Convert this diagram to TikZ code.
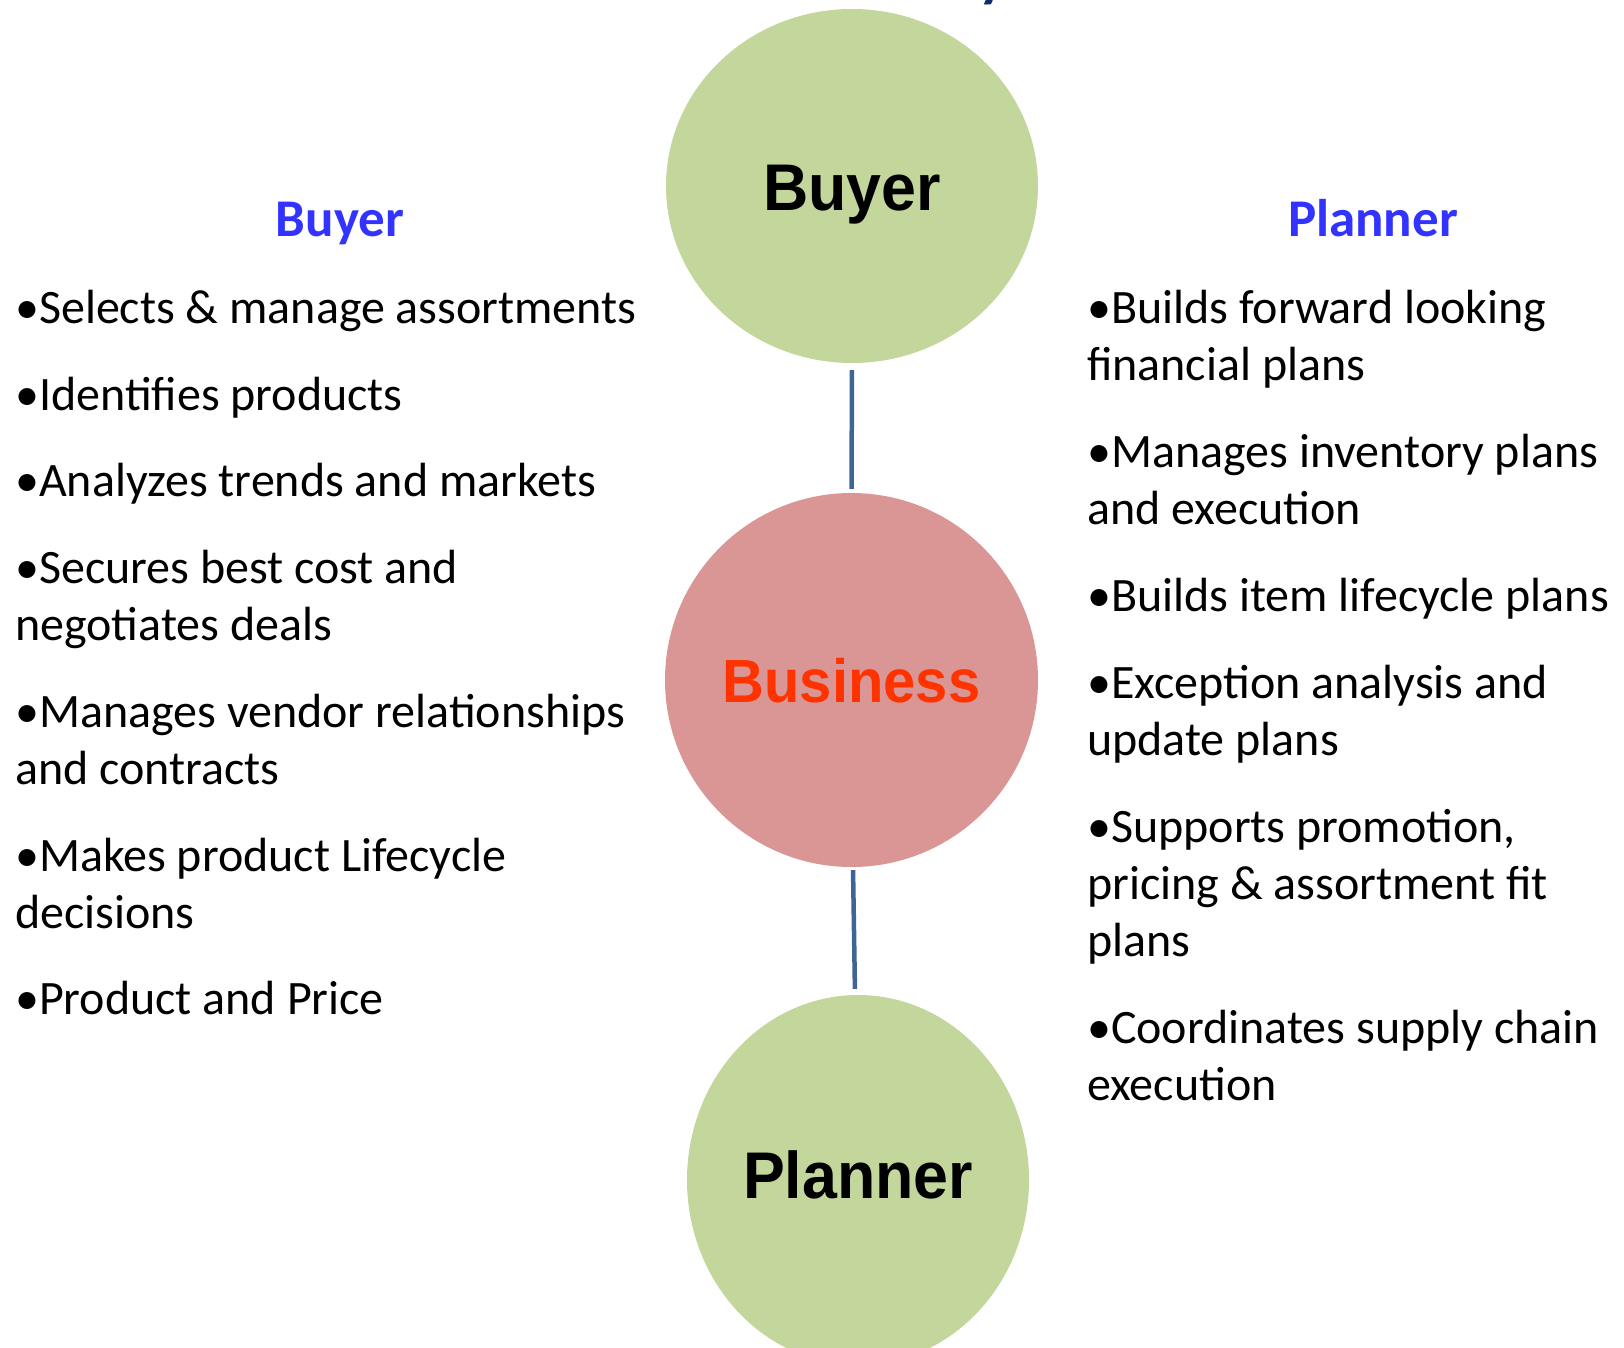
\documentclass[tikz,border=0pt]{standalone}
\usepackage{fontspec}
\setmainfont{Carlito}
\newfontfamily\circfont{Liberation Sans}[FakeStretch=0.95]
\usetikzlibrary{shapes.geometric}
\definecolor{circgreen}{HTML}{C3D69B}
\definecolor{circpink}{HTML}{D99694}
\definecolor{busred}{HTML}{FF3300}
\definecolor{headblue}{HTML}{3333FF}
\definecolor{linkblue}{HTML}{3F6596}
\definecolor{titlenavy}{HTML}{0B2D6E}
\tikzset{
  bubble/.style={ellipse, inner sep=0pt, draw=none, text depth=0pt},
  linkline/.style={draw=linkblue, line width=4.5pt},
  bodytext/.style={anchor=base west, inner sep=0pt, font=\fontsize{48}{57}\selectfont},
  headtext/.style={anchor=base, inner sep=0pt, text=headblue, font=\fontsize{53}{60}\selectfont\bfseries}
}
\begin{document}
\begin{tikzpicture}[x=1pt,y=-1pt]
\useasboundingbox (0,0) rectangle (1624,1347);
% title fragment (cut off at top)
\node[anchor=base west, inner sep=0pt, text=titlenavy, font=\fontsize{60}{70}\selectfont\bfseries] (title) at (978,-5) {y};
% circles
\node[bubble, fill=circgreen, minimum width=372pt, minimum height=354pt, text height=48pt,
      font=\circfont\fontsize{66}{70}\selectfont\bfseries] (buyer) at (852,186) {Buyer};
\node[bubble, fill=circpink, minimum width=373pt, minimum height=374pt, text height=45pt, text=busred,
      font=\circfont\fontsize{61}{70}\selectfont\bfseries] (business) at (851.5,680) {Business};
\node[bubble, fill=circgreen, minimum width=342pt, minimum height=370pt, text height=48pt, text depth=12pt,
      font=\circfont\fontsize{66}{70}\selectfont\bfseries] (planner) at (858,1180) {Planner};
% connectors
\draw[linkline, shorten <=7pt, shorten >=4pt] (buyer.south) -- (business.north);
\draw[linkline, shorten <=3pt, shorten >=6pt] ([xshift=1.5pt]business.south) -- ([xshift=-3pt]planner.north);
% headings
\node[headtext] (hbuyer) at (340,236) {Buyer};
\node[headtext] (hplanner) at (1373,236) {Planner};
% left list
\node[bodytext] (l1) at (15,323) {•Selects \& manage assortments};
\node[bodytext] (l2) at (15,410) {•Identifies products};
\node[bodytext] (l3) at (15,496) {•Analyzes trends and markets};
\node[bodytext] (l4a) at (15,583) {•Secures best cost and};
\node[bodytext] (l4b) at (15,640) {negotiates deals};
\node[bodytext] (l5a) at (15,727) {•Manages vendor relationships};
\node[bodytext] (l5b) at (15,784) {and contracts};
\node[bodytext] (l6a) at (15,871) {•Makes product Lifecycle};
\node[bodytext] (l6b) at (15,928) {decisions};
\node[bodytext] (l7) at (15,1014) {•Product and Price};
% right list
\node[bodytext] (r1a) at (1087,323) {•Builds forward looking};
\node[bodytext] (r1b) at (1087,380) {financial plans};
\node[bodytext] (r2a) at (1087,467) {•Manages inventory plans};
\node[bodytext] (r2b) at (1087,524) {and execution};
\node[bodytext] (r3) at (1087,611) {•Builds item lifecycle plans};
\node[bodytext] (r4a) at (1087,698) {•Exception analysis and};
\node[bodytext] (r4b) at (1087,755) {update plans};
\node[bodytext] (r5a) at (1087,842) {•Supports promotion,};
\node[bodytext] (r5b) at (1087,899) {pricing \& assortment fit};
\node[bodytext] (r5c) at (1087,956) {plans};
\node[bodytext] (r6a) at (1087,1043) {•Coordinates supply chain};
\node[bodytext] (r6b) at (1087,1100) {execution};
\end{tikzpicture}
\end{document}
